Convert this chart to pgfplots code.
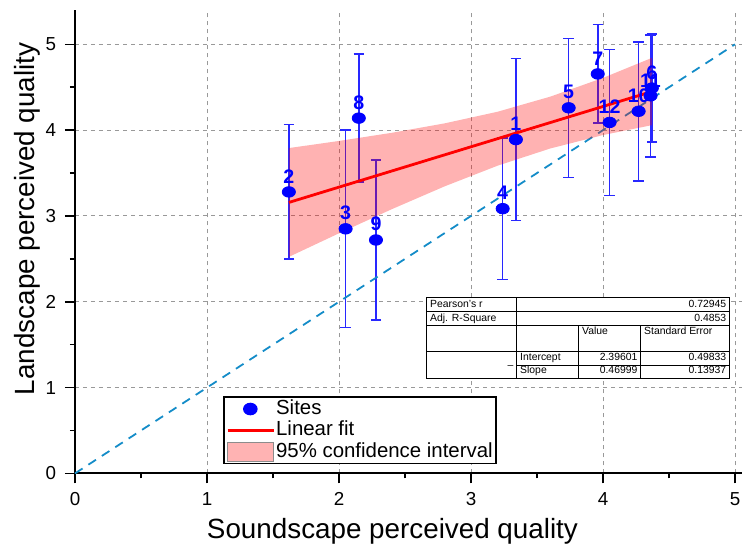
\documentclass[border=0pt]{standalone}
\usepackage{pgfplots}
\pgfplotsset{compat=1.18}
\usepackage{pgfplotstable}
\usepackage{fontspec}
\setmainfont{Liberation Sans}
\usepackage{array}

\definecolor{errblue}{RGB}{40,40,255}
\definecolor{diagblue}{RGB}{20,140,200}
\definecolor{bandpink}{RGB}{255,179,179}

\pgfplotstableread{
id x y ey
1 3.34 3.89 0.945
2 1.62 3.28 0.785
3 2.05 2.85 1.15
4 3.24 3.085 0.825
5 3.74 4.26 0.81
6 4.37 4.49 0.63
7 3.96 4.655 0.575
8 2.15 4.14 0.745
9 2.28 2.72 0.93
10 4.27 4.22 0.81
11 4.36 4.40 0.71
12 4.05 4.09 0.85
}\sites

\begin{document}
\begin{tikzpicture}
\begin{axis}[
  at={(0,0)}, anchor=south west,
  scale only axis, width=333.3pt, height=231.7pt,
  xmin=0, xmax=5.05, ymin=0, ymax=5.4,
  axis x line=bottom, axis y line=left,
  axis line style={-, line width=1pt, black},
  xtick={0,1,2,3,4,5}, ytick={0,1,2,3,4,5},
  minor xtick={0.5,1.5,2.5,3.5,4.5}, minor ytick={0.5,1.5,2.5,3.5,4.5},
  tick align=outside, major tick length=5pt, minor tick length=2.5pt,
  every tick/.style={black, line width=0.8pt},
  grid=major,
  major grid style={black!40, dash pattern=on 2pt off 2pt, line width=0.5pt},
  tick label style={font=\fontsize{9.4}{10}\selectfont},
  xticklabel style={yshift=-0.9pt},
  yticklabel style={xshift=-0.9pt},
  /pgf/number format/assume math mode=true,
  xlabel={Soundscape perceived quality},
  ylabel={Landscape perceived quality},
  label style={font=\fontsize{13.9}{15}\selectfont},
  xlabel style={at={(axis description cs:0.4762,-0.140)}, anchor=base},
  ylabel style={at={(axis description cs:-0.0608,0.5493)}, anchor=base},
  clip=false,
  legend style={at={(axis cs:1.123,0.897)}, anchor=north west,
    draw=black, line width=0.7pt, fill=white,
    inner xsep=1.2pt, inner ysep=0.6pt,
    font=\fontsize{10.2}{11}\selectfont,
    nodes={inner sep=0.5pt, text height=7.5pt, text depth=2.2pt},
    row sep=0pt,
    /tikz/every even column/.append style={column sep=2.3pt}},
  legend cell align=left,
]
\addlegendimage{legend image code/.code={
  \draw[white, line width=0.2pt] (0pt,0pt) -- (23pt,0pt);
  \fill[blue] (11.3pt,0pt) ellipse (3.3pt and 2.8pt);}}
\addlegendentry{Sites}
\addlegendimage{legend image code/.code={
  \draw[red, line width=1.4pt] (0pt,0pt) -- (23pt,0pt);}}
\addlegendentry{Linear fit}
\addlegendimage{legend image code/.code={
  \draw[fill=bandpink, draw=black!45, line width=0.5pt] (0pt,-4.6pt) rectangle (23pt,4.6pt);}}
\addlegendentry{95\% confidence interval}

% sites with error bars and labels
\addplot[forget plot, only marks, mark=*, mark size=3pt,
  mark options={fill=blue, draw=blue, xscale=1.1, yscale=0.88},
  error bars/.cd, y dir=both, y explicit,
  error bar style={errblue, line width=0.8pt},
  error mark options={rotate=90, mark size=2.6pt, line width=0.8pt, errblue}]
  table[x=x, y=y, y error=ey] {\sites};
\addplot[forget plot, only marks, mark=none,
  nodes near coords, point meta=explicit symbolic,
  every node near coord/.style={font=\bfseries\fontsize{9.8}{11}\selectfont,
    text=blue, anchor=south, inner sep=0pt, yshift=4.2pt}]
  table[x=x, y=y, meta=id] {\sites};

% y = x reference line
\addplot[forget plot, diagblue, line width=0.9pt, dash pattern=on 4.5pt off 3.5pt]
  coordinates {(0,0) (5,5)};

% 95% confidence band
\addplot[forget plot, draw=none, fill=red, fill opacity=0.3]
  coordinates {(1.62,3.791) (2.0,3.874) (2.4,3.969) (2.8,4.079) (3.2,4.214)
    (3.6,4.390) (4.0,4.609) (4.37,4.842)
    (4.37,4.058) (4.0,3.943) (3.6,3.786) (3.2,3.585) (2.8,3.345)
    (2.4,3.079) (2.0,2.798) (1.62,2.523)};

% linear fit
\addplot[forget plot, red, line width=1.4pt]
  coordinates {(1.62,3.1574) (4.37,4.4499)};

% statistics table
\node[anchor=north west, inner sep=0pt, fill=white,
  font=\fontsize{5.2}{6.5}\selectfont] at (axis cs:2.659,2.055) {%
  \setlength{\tabcolsep}{1.5pt}\setlength{\arrayrulewidth}{0.4pt}%
  \renewcommand{\arraystretch}{1}%
  \begin{tabular}{|>{\raggedright\arraybackslash}p{41.6pt}|>{\raggedright\arraybackslash}p{27.6pt}|>{\raggedleft\arraybackslash}p{27.6pt}|>{\raggedleft\arraybackslash}p{41pt}|}
  \hline
  Pearson's r & \multicolumn{3}{r|}{0.72945}\\ \hline
  Adj. R-Square & \multicolumn{3}{r|}{0.4853}\\ \hline
   & & \multicolumn{1}{l|}{Value} & \multicolumn{1}{l|}{Standard Error\rule[-8pt]{0pt}{0pt}}\\ \hline
  \multicolumn{1}{|r|}{\raisebox{-3.6pt}[0pt][0pt]{--}} & Intercept & 2.39601 & 0.49833\\ \cline{2-4}
   & Slope & 0.46999 & 0.13937\\ \hline
  \end{tabular}};
\end{axis}
\pgfresetboundingbox
\path (-37.5pt,-35.5pt) rectangle (333.5pt,236.7pt);
\end{tikzpicture}
\end{document}
